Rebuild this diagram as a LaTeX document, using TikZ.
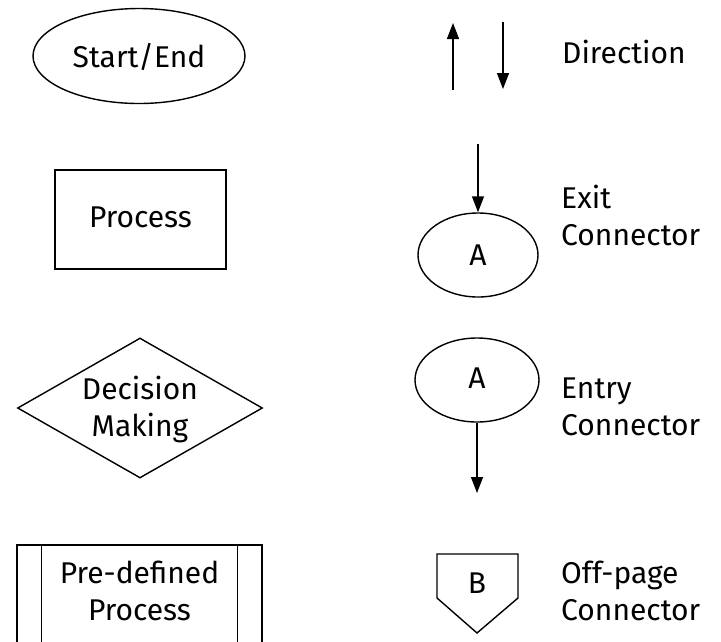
\documentclass[tikz,border=0pt]{standalone}
\usepackage{fontspec}
\setmainfont{Fira Sans}
\usetikzlibrary{shapes.geometric,arrows.meta}
\begin{document}
\begin{tikzpicture}[x=1pt,y=-1pt,
  outline/.style={draw=black,line width=1.4pt},
  txt/.style={font=\fontsize{30}{37}\selectfont,inner sep=0pt},
  flow/.style={line width=1.4pt,-{Triangle[length=16pt,width=12pt]}}]
\useasboundingbox (0,0) rectangle (721,641);
\clip (0,0) rectangle (721,641);

% ---- left column: basic symbols ----
\node[outline,ellipse,minimum width=212pt,minimum height=95pt,inner sep=0pt]
  (startend) at (139,56) {};
\node[txt] (startendtext) at ([yshift=-1pt]startend.center) {Start/End};

\node[outline,rectangle,minimum width=171pt,minimum height=99pt,inner sep=0pt]
  (process) at (140.5,219.5) {};
\node[txt] (processtext) at ([yshift=2pt]process.center) {Process};

\node[outline,diamond,minimum width=245pt,minimum height=140pt,inner sep=0pt]
  (decision) at (140,408) {};
\node[txt,align=center] (decisiontext) at ([yshift=-1pt]decision.center) {Decision\\Making};

\node[outline,rectangle,minimum width=245pt,minimum height=155pt,inner sep=0pt]
  (predef) at (139.5,622.5) {};
\draw[outline] ([xshift=25pt]predef.north west) -- ([xshift=25pt]predef.south west);
\draw[outline] ([xshift=-25pt]predef.north east) -- ([xshift=-25pt]predef.south east);
\node[txt,align=center,anchor=base] (predeftext) at (139.5,620) {Pre-defined\\Process};

% ---- right column: flow and connector symbols ----
\coordinate (upfrom) at (453,90);
\coordinate (upto) at (453,23);
\coordinate (downfrom) at (503,22);
\coordinate (downto) at (503,89);
\draw[flow] (upfrom) -- (upto);
\draw[flow] (downfrom) -- (downto);
\node[txt,anchor=base west] (direction) at (562,63) {Direction};

\node[outline,ellipse,minimum width=120pt,minimum height=84pt,inner sep=0pt]
  (exitA) at (478,255) {};
\node[txt] (exitAtext) at (exitA.center) {A};
\coordinate (exitin) at (478,144);
\draw[flow] (exitin) -- (exitA.north);
\node[txt,align=left,anchor=base west] (exitlabel) at (561,245) {Exit\\Connector};

\node[outline,ellipse,minimum width=124pt,minimum height=84pt,inner sep=0pt]
  (entryA) at (477,380) {};
\node[txt] (entryAtext) at ([yshift=2pt]entryA.center) {A};
\coordinate (entryout) at (477,493);
\draw[flow] (entryA.south) -- (entryout);
\node[txt,align=left,anchor=base west] (entrylabel) at (561,435) {Entry\\Connector};

\node[txt] (offB) at (477,583) {B};
\draw[outline,line join=miter]
  ([xshift=-40pt,yshift=29pt]offB.center) -- ([xshift=41pt,yshift=29pt]offB.center)
  -- ([xshift=41pt,yshift=-15pt]offB.center) -- ([yshift=-50pt]offB.center)
  -- ([xshift=-40pt,yshift=-15pt]offB.center) -- cycle;
\node[txt,align=left,anchor=base west] (offlabel) at (561,620) {Off-page\\Connector};
\end{tikzpicture}
\end{document}
